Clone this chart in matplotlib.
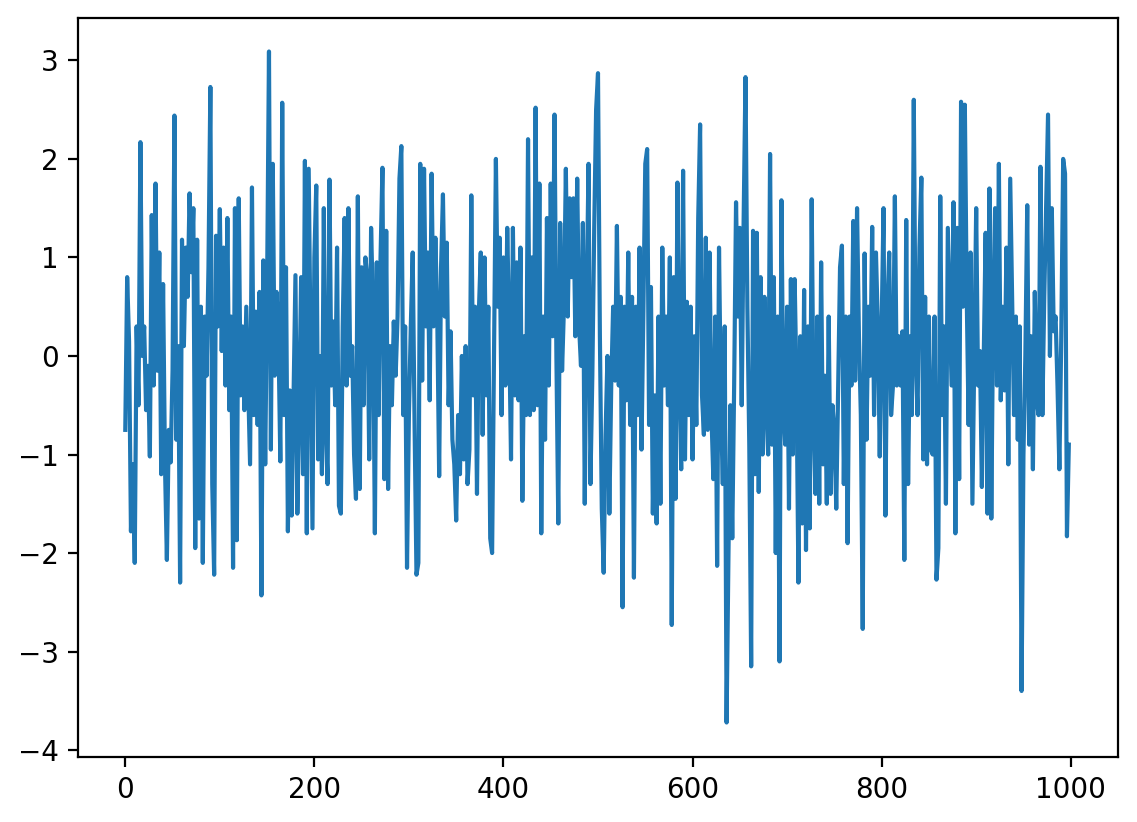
import numpy as np
import matplotlib
matplotlib.use('Agg')
import matplotlib.pyplot as plt

step = 2
values = [
    # 0-48
    -0.75, 0.8, 0.15, -1.78, -1.1, -2.1, 0.3, -0.5, 2.17, 0.0, 0.3, -0.55, -0.1,
    -1.02, 1.43, -0.3, 1.75, -0.15, 1.05, -1.2, 0.73, -1.1, -2.07, -0.75, -1.08,
    # 50-98
    -0.15, 2.44, -0.85, 0.1, -2.3, 1.18, 0.1, 1.1, 0.6, 1.65, 0.85, 1.5, -1.95,
    1.18, -1.65, 0.5, -2.1, 0.4, -0.2, 0.9, 2.73, -1.3, -2.22, 1.22, 0.3,
    # 100-148
    1.49, 0.05, 1.1, -0.3, 1.4, -0.55, 0.4, -2.15, 1.5, -1.87, 1.6, -0.4, 0.3,
    -0.55, 0.5, -0.3, -1.1, 1.71, -0.6, 0.45, -0.7, 0.65, -2.43, 0.97, -1.1,
    # 150-198
    0.7, 3.09, -0.95, 1.95, -0.2, 0.65, 0.2, -1.07, 2.57, -0.6, 0.9, -1.78, -0.35,
    -1.62, -0.4, 0.82, -1.6, -0.5, 0.8, -1.2, 1.98, -1.8, 1.9, 0.1, -1.75,
    # 200-248
    1.0, 1.73, -1.05, 0.0, -1.2, 1.5, -0.7, -1.3, 1.79, -0.3, 0.35, -0.5, 1.1,
    -1.52, -1.6, 0.3, 1.4, -0.3, 1.5, -0.2, 0.1, -1.0, -1.45, 1.62, -1.35,
    # 250-298
    0.9, -0.5, 1.0, 0.8, -1.05, 1.3, 0.5, -1.8, 0.95, -0.6, 1.0, 1.91, -1.25,
    1.27, -1.35, 0.1, -0.5, 0.35, -0.2, 0.4, 1.8, 2.13, -0.6, 0.3, -2.15,
    # 300-348
    -0.6, 0.3, 1.05, -0.7, -2.22, -2.1, 1.95, -0.25, 1.9, 0.3, 1.05, -0.45, 1.85,
    0.3, 1.2, 0.4, -1.22, 0.9, 1.64, 0.4, 1.15, -0.5, 0.25, -0.85, -1.1,
    # 350-398
    -1.67, -0.6, -1.2, 0.0, -1.05, 0.1, -1.3, -0.95, 1.63, -0.4, 0.5, -1.4, 0.45,
    1.05, -0.8, 1.0, -0.4, 0.5, -1.85, -2.0, 0.0, 2.0, 0.5, 1.2, -0.6,
    # 400-448
    1.0, -0.3, 1.3, 0.3, -1.05, 1.3, -0.4, 0.95, -0.45, 1.1, -1.47, 0.2, -0.6,
    2.2, -0.6, 1.0, -0.55, 2.52, -0.5, 1.75, -1.8, 0.4, -0.85, 1.4, -0.3,
    # 450-498
    1.75, 0.2, 2.45, 0.0, -1.7, 1.35, -0.15, 0.5, 1.9, 0.4, 1.6, 0.8, 1.6,
    0.2, 1.8, 0.3, -0.1, 1.35, -1.5, 0.6, 1.95, -1.3, -0.2, 1.3, 2.5,
    # 500-548
    2.87, 0.2, -1.55, -2.2, -0.8, 0.0, -1.6, -0.3, 0.5, -0.25, 1.32, -0.3, 0.6,
    -2.55, 0.5, -0.45, 1.05, -0.7, 0.6, -2.25, 0.5, -0.6, 1.1, -0.95, 0.45,
    # 550-598
    1.95, 2.1, -0.7, 0.7, -1.6, -0.4, -1.7, 0.4, -1.5, 1.1, -0.3, 0.4, -0.5,
    1.0, -2.73, 0.8, -1.45, 1.76, -0.2, -1.15, 1.88, -1.05, 0.55, -0.6, 0.5,
    # 600-648
    -1.05, 0.2, -0.7, 1.4, 2.35, -0.4, -0.8, 1.2, -0.75, 1.05, -0.6, -1.25, 0.4,
    -2.13, 1.1, -0.5, -1.3, 0.3, -3.72, -2.0, -0.5, -1.85, -0.3, 1.56, 0.4,
    # 650-698
    1.3, -0.5, 1.35, 2.83, 0.5, -0.9, -3.15, 1.27, -1.2, 1.25, -1.38, 0.8, -1.0,
    0.6, -0.55, -1.0, 2.05, -0.9, 0.8, -2.0, 0.4, -3.1, 1.58, -0.5, -0.9,
    # 700-748
    0.5, -1.55, 0.78, -1.0, 0.78, -0.3, -2.3, 0.2, -1.7, 0.67, -1.97, 0.3, -1.75,
    1.59, -0.6, -1.4, 0.4, -1.5, 0.95, -1.1, -0.2, -1.5, 0.4, -1.4, -0.5,
    # 750-798
    -0.75, -1.55, -0.3, 0.9, 1.12, -1.3, 0.4, -1.9, 0.4, -0.3, 1.37, -0.25, 1.5,
    0.2, -0.6, -2.77, 1.04, -0.85, 0.5, -0.2, 1.31, -0.6, 1.05, 0.3, -1.02,
    # 800-848
    0.3, 1.5, -1.62, 0.45, 1.05, -0.6, -0.3, 1.62, -0.3, 0.2, -0.3, 0.25, -2.07,
    1.38, -1.3, 0.2, -0.6, 2.6, 0.0, -0.6, 1.1, 1.81, -1.05, 0.6, -1.1,
    # 850-898
    0.4, -0.95, -1.0, 0.4, -2.27, -1.95, 1.62, -0.6, 0.3, -1.5, 1.3, 0.5, -0.3,
    1.56, -1.8, 1.3, -1.25, 2.58, 0.5, 2.55, 0.6, -0.7, 1.05, -1.5, 0.0,
    # 900-948
    1.5, -0.3, 0.05, -1.33, 0.0, 1.25, -1.6, 1.7, -1.65, 0.5, 1.5, -0.3, 1.95,
    -0.45, 0.5, -0.35, 1.1, -1.1, 1.8, 0.6, -0.6, 0.4, -0.85, 0.3, -3.4,
    # 950-998
    -1.0, 0.0, 1.53, -0.9, 0.2, -1.15, 0.65, -0.45, -0.6, 1.92, -0.6, 0.6, 1.5,
    2.45, 0.0, 1.5, 0.25, 0.4, -0.3, -1.15, 0.2, 2.0, 1.85, -1.83, -0.9,
]

x = np.arange(len(values)) * step

fig = plt.figure(figsize=(1137 / 200, 822 / 200), dpi=200)
ax = fig.add_axes([78 / 1137, 65 / 822, 1040 / 1137, 739 / 822])
ax.plot(x, values)
ax.set_xlim(-50, 1050)
ax.set_ylim(-4.07, 3.43)
ax.set_xticks([0, 200, 400, 600, 800, 1000])
ax.set_yticks([-4, -3, -2, -1, 0, 1, 2, 3])
ax.set_yticklabels(['\u22124', '\u22123', '\u22122', '\u22121', '0', '1', '2', '3'])
plt.savefig('out.png', dpi=200)
